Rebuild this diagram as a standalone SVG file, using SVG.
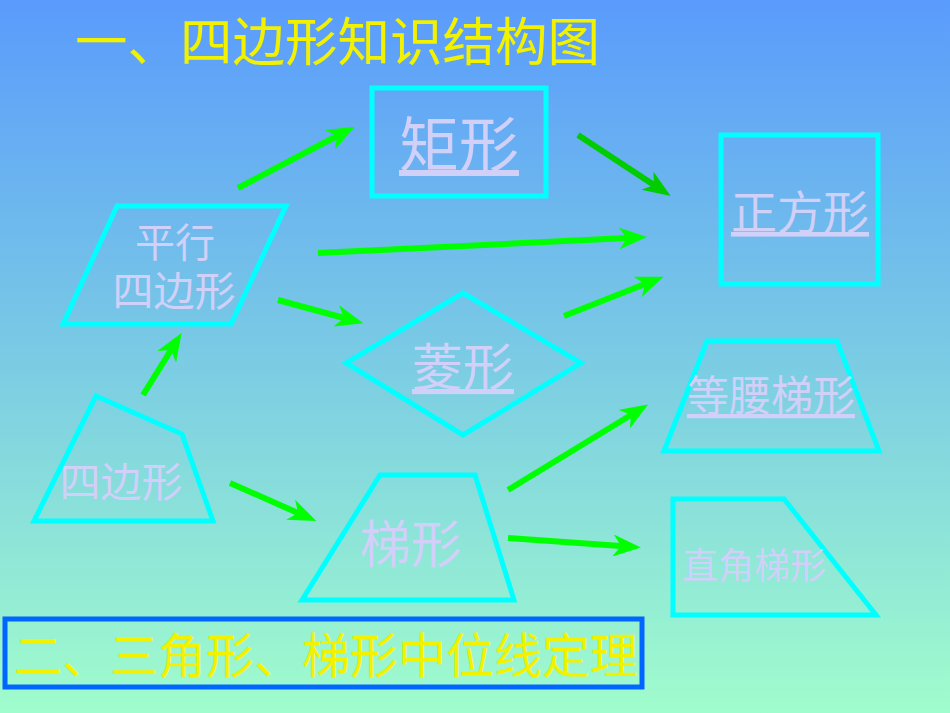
<svg xmlns="http://www.w3.org/2000/svg" width="950" height="713" viewBox="0 0 950 713">
<defs>
<linearGradient id="bg" x1="0" y1="0" x2="0" y2="1">
<stop offset="0" stop-color="#5a9bfc"/>
<stop offset="0.5" stop-color="#7acbe4"/>
<stop offset="1" stop-color="#a0fdcc"/>
</linearGradient>
<marker id="ah" markerUnits="userSpaceOnUse" markerWidth="28" markerHeight="22" viewBox="0 0 28 22" refX="8" refY="11" orient="auto">
<path d="M0,0 L28,11 L0,22 L8,11 z" fill="#00ff00"/>
</marker>
<marker id="ah2" markerUnits="userSpaceOnUse" markerWidth="28" markerHeight="22" viewBox="0 0 28 22" refX="8" refY="11" orient="auto">
<path d="M0,0 L28,11 L0,22 L8,11 z" fill="#00cc00"/>
</marker>
</defs>
<style>
.shape{fill:none;stroke:#00ffff;stroke-width:5;stroke-linejoin:miter}
.lbl{font-family:"Noto Sans CJK SC","Noto Sans",sans-serif;fill:#d0d0f8;text-anchor:middle}
.u{text-decoration:underline}
.yel{font-family:"Noto Sans CJK SC","Noto Sans",sans-serif;fill:#f2f200}
.arr{stroke:#00ff00;stroke-width:6;fill:none;marker-end:url(#ah)}
</style>
<rect x="0" y="0" width="950" height="713" fill="url(#bg)"/>
<g id="title"><text class="yel" x="75" y="61" font-size="52.5">一、四边形知识结构图</text></g>
<g id="rect"><rect class="shape" x="372" y="88" width="174" height="108"/><text class="lbl u" x="459" y="167" font-size="60">矩形</text></g>
<g id="square"><rect class="shape" x="721" y="135" width="157" height="149"/><text class="lbl u" x="800" y="229" font-size="46">正方形</text></g>
<g id="parallelogram"><polygon class="shape" points="117,206 286,206 231,324 63,324"/><text class="lbl" x="175" y="257" font-size="40">平行</text><text class="lbl" x="174" y="306" font-size="41">四边形</text></g>
<g id="rhombus"><polygon class="shape" points="463,293 581,363 463,435 346,363"/><text class="lbl u" x="463" y="386" font-size="51">菱形</text></g>
<g id="quadrilateral"><polygon class="shape" points="96,396 182,434 213,521 34,521"/><text class="lbl" x="121" y="497" font-size="41">四边形</text></g>
<g id="trapezoid"><polygon class="shape" points="380,475 475,475 514,600 302,600"/><text class="lbl" x="411" y="563" font-size="51">梯形</text></g>
<g id="isosceles"><polygon class="shape" points="707,341 837,341 879,451 664,451"/><text class="lbl u" x="771" y="411" font-size="42">等腰梯形</text></g>
<g id="righttrap"><polygon class="shape" points="673,499 784,499 876,615 673,615"/><text class="lbl" x="754" y="579" font-size="36">直角梯形</text></g>
<g id="connectors">
<line class="arr" x1="238" y1="188" x2="337" y2="136"/>
<line x1="578" y1="135" x2="654" y2="185" stroke="#00cc00" stroke-width="6" marker-end="url(#ah2)"/>
<line class="arr" x1="318" y1="253" x2="627" y2="238"/>
<line class="arr" x1="278" y1="300" x2="344" y2="318"/>
<line class="arr" x1="564" y1="316" x2="645" y2="284"/>
<line class="arr" x1="143" y1="395" x2="171" y2="350"/>
<line class="arr" x1="230" y1="483" x2="298" y2="513"/>
<line class="arr" x1="508" y1="490" x2="631" y2="415"/>
<line class="arr" x1="508" y1="538" x2="621" y2="546"/>
</g>
<g id="section2"><rect x="5" y="619" width="637" height="68" fill="none" stroke="#0066ff" stroke-width="5"/><text class="yel" x="14" y="673" font-size="48">二、三角形、梯形中位线定理</text></g>
</svg>
